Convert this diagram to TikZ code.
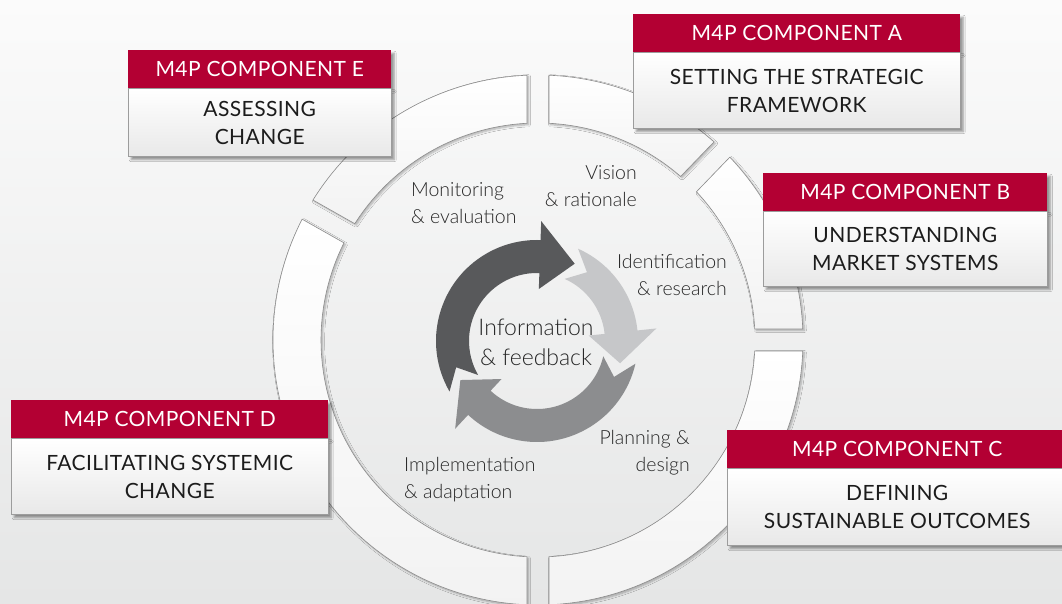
\documentclass[tikz,border=0pt]{standalone}
\usepackage{fontspec}
\setmainfont{Lato}[LetterSpace=2]
\newfontfamily\thinfont{Lato Light}
\usepackage{tikz}
\usetikzlibrary{calc,positioning,shadows,shadows.blur}
\definecolor{m4pred}{HTML}{B30033}
\definecolor{boxline}{HTML}{9C9C9C}
\definecolor{ink}{HTML}{1C1C1C}
\definecolor{soft}{HTML}{262626}
\definecolor{bgtop}{HTML}{FBFBFB}
\definecolor{bgbot}{HTML}{E5E6E6}
\definecolor{arrdark}{HTML}{58595B}
\definecolor{arrmid}{HTML}{8C8D8F}
\definecolor{arrlight}{HTML}{C6C7C9}
\tikzset{
  segment/.style={draw=black!45, line width=0.6pt, top color=white, bottom color=black!5,
    blur shadow={shadow xshift=1.5pt, shadow yshift=-1.5pt, shadow blur steps=6, shadow opacity=30}},
  head/.style={fill=m4pred, text=white, font=\fontsize{21}{24}\selectfont,
    minimum height=38pt, inner sep=0pt, anchor=north west,
    blur shadow={shadow xshift=3pt, shadow yshift=-3pt, shadow blur steps=6, shadow opacity=40}},
  body/.style={draw=boxline, line width=0.6pt, top color=white, bottom color=black!9,
    text=ink, align=center, font=\fontsize{21}{28}\selectfont, inner sep=0pt,
    blur shadow={shadow xshift=3pt, shadow yshift=-3pt, shadow blur steps=6, shadow opacity=40}},
  lab/.style={text=soft, font=\thinfont\fontsize{19.5}{27}\selectfont, inner sep=0pt},
}

\begin{document}
\begin{tikzpicture}[x=1pt,y=1pt]
  \pgfmathsetmacro{\Ro}{265}
  \pgfmathsetmacro{\Ri}{217}
  \pgfmathsetmacro{\gap}{11}
  \shade[top color=bgtop, bottom color=bgbot] (0,0) rectangle (1062,603);
  \useasboundingbox (0,0) rectangle (1062,603);
  \coordinate (ctr) at (538,263);
  \coordinate (hub) at (537,262);

  % outer ring, five pieces
  \foreach \a/\b in {46/90, 0/46, -90/0, 150.5/270, 90/150.5}{
    \pgfmathsetmacro{\ao}{\a+asin(\gap/\Ro)}
    \pgfmathsetmacro{\bo}{\b-asin(\gap/\Ro)}
    \pgfmathsetmacro{\ai}{\a+asin(\gap/\Ri)}
    \pgfmathsetmacro{\bi}{\b-asin(\gap/\Ri)}
    \path[segment] ($(ctr)+(\ao:\Ro)$) arc[start angle=\ao, end angle=\bo, radius=\Ro pt]
      -- ($(ctr)+(\bi:\Ri)$) arc[start angle=\bi, end angle=\ai, radius=\Ri pt] -- cycle;
  }

  % inner cycle arrows: tail/head base/tip/colour
  \foreach \t/\h/\p/\c in {210/88/64/arrdark, 66/6/-15/arrlight, -13/-133/-153/arrmid}{
    \fill[\c] ($(hub)+(\t:101)$) arc[start angle=\t, end angle=\h, radius=101pt]
      -- ($(hub)+(\h:120)$) -- ($(hub)+(\p:86)$) -- ($(hub)+(\h:52)$) -- ($(hub)+(\h:68)$)
      arc[start angle=\h, end angle=\t, radius=68pt] -- ($(hub)+({\t-12}:85)$) -- cycle;
  }

  \node[lab, font=\thinfont\fontsize{23}{30}\selectfont, align=center] (info) at (536,261) {Information\\\& feedback};
  \node[lab, align=left, anchor=west] (mon) at (411,399.5) {Monitoring\\\& evaluation};
  \node[lab, align=right, anchor=east] (vis) at (637,416.5) {Vision\\\& rationale};
  \node[lab, align=right, anchor=east] (idr) at (727,328.5) {Identification\\\& research};
  \node[lab, align=right, anchor=east] (pla) at (690,150.5) {Planning \&\\design};
  \node[lab, align=left, anchor=west] (imp) at (404,123.5) {Implementation\\\& adaptation};

  % component boxes
  \node[head, minimum width=327pt] (hdA) at (633,589) {M4P COMPONENT A};
  \node[body, minimum width=327pt, minimum height=76pt, below=0pt of hdA] (bdA) {SETTING THE STRATEGIC\\FRAMEWORK};
  \node[head, minimum width=284pt] (hdB) at (763,430) {M4P COMPONENT B};
  \node[body, minimum width=284pt, minimum height=75pt, below=0pt of hdB] (bdB) {UNDERSTANDING\\MARKET SYSTEMS};
  \node[head, minimum width=340pt] (hdC) at (727,173) {M4P COMPONENT C};
  \node[body, minimum width=340pt, minimum height=77pt, below=0pt of hdC] (bdC) {DEFINING\\SUSTAINABLE OUTCOMES};
  \node[head, minimum width=317pt] (hdD) at (11,203) {M4P COMPONENT D};
  \node[body, minimum width=317pt, minimum height=76pt, below=0pt of hdD] (bdD) {FACILITATING SYSTEMIC\\CHANGE};
  \node[head, minimum width=263pt] (hdE) at (128,553) {M4P COMPONENT E};
  \node[body, minimum width=263pt, minimum height=68pt, below=0pt of hdE] (bdE) {ASSESSING\\CHANGE};
\end{tikzpicture}
\end{document}
